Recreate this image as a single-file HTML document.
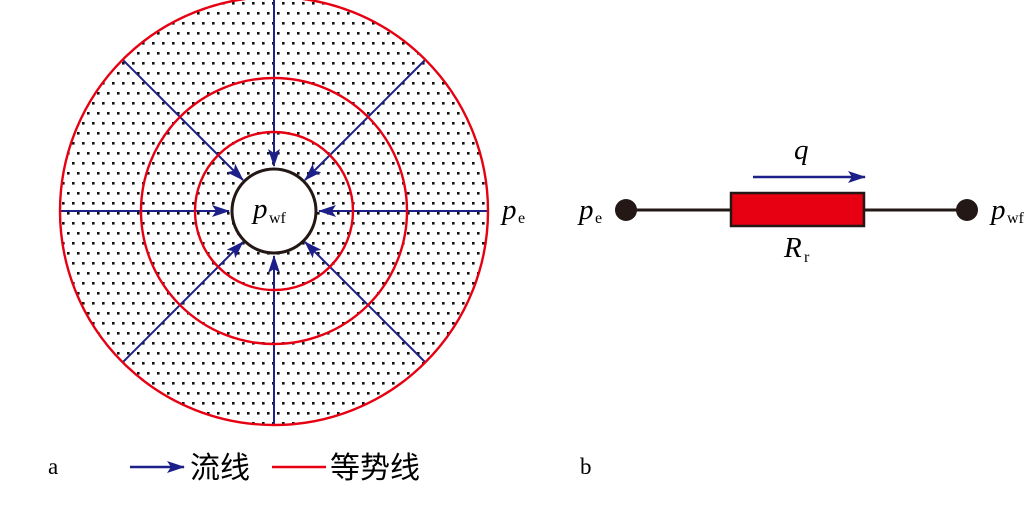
<!DOCTYPE html>
<html><head><meta charset="utf-8"><style>
html,body{margin:0;padding:0;background:#fff;}
svg{display:block;}
</style></head><body>
<svg width="1034" height="520" viewBox="0 0 1034 520" xmlns="http://www.w3.org/2000/svg">
<defs>
<pattern id="dots" width="10" height="20" patternUnits="userSpaceOnUse">
<rect x="2" y="2" width="2.6" height="2.6" fill="#111"/>
<rect x="7" y="12" width="2.6" height="2.6" fill="#111"/>
</pattern>
<marker id="ah2" markerWidth="18" markerHeight="12" refX="17" refY="6" orient="auto" markerUnits="userSpaceOnUse">
<path d="M0,0 L18,6 L0,12 L4,6 Z" fill="#1d2088"/>
</marker>
</defs>
<circle cx="274" cy="211" r="214" fill="url(#dots)"/>
<circle cx="274" cy="211" r="42" fill="#fff"/>
<g stroke="#1d2088" stroke-width="2" marker-end="url(#ah2)">
<line x1="60" y1="211" x2="229" y2="211"/>
<line x1="488" y1="211" x2="319" y2="211"/>
<line x1="274" y1="-3" x2="274" y2="166"/>
<line x1="274" y1="425" x2="274" y2="256"/>
<line x1="123" y1="60" x2="243" y2="180"/>
<line x1="425" y1="60" x2="305" y2="180"/>
<line x1="123" y1="362" x2="243" y2="242"/>
<line x1="425" y1="362" x2="305" y2="242"/>
</g>
<g fill="none" stroke="#e60012" stroke-width="2.4">
<circle cx="274" cy="211" r="214"/>
<circle cx="274" cy="211" r="133"/>
<circle cx="274" cy="211" r="79"/>
</g>
<circle cx="274" cy="211" r="42" fill="none" stroke="#231815" stroke-width="3"/>
<text x="253" y="218" font-family="Liberation Serif,serif" font-style="italic" font-size="29">p</text>
<text x="269" y="223" font-family="Liberation Serif,serif" font-size="16">wf</text>
<text x="502" y="219" font-family="Liberation Serif,serif" font-style="italic" font-size="29">p</text>
<text x="518" y="223" font-family="Liberation Serif,serif" font-size="16">e</text>

<line x1="626" y1="210" x2="967" y2="210" stroke="#231815" stroke-width="3"/>
<circle cx="626" cy="210" r="11" fill="#231815"/>
<circle cx="967" cy="210" r="11" fill="#231815"/>
<rect x="731" y="193" width="133" height="33" fill="#e60012" stroke="#231815" stroke-width="2.5"/>
<line x1="753" y1="177" x2="865" y2="177" stroke="#1d2088" stroke-width="2.5" marker-end="url(#ah2)"/>
<text x="794" y="159" font-family="Liberation Serif,serif" font-style="italic" font-size="29">q</text>
<text x="784" y="257" font-family="Liberation Serif,serif" font-style="italic" font-size="29">R</text>
<text x="804" y="262" font-family="Liberation Serif,serif" font-size="16">r</text>
<text x="579" y="219" font-family="Liberation Serif,serif" font-style="italic" font-size="29">p</text>
<text x="595" y="223" font-family="Liberation Serif,serif" font-size="16">e</text>
<text x="991" y="219" font-family="Liberation Serif,serif" font-style="italic" font-size="29">p</text>
<text x="1007" y="223" font-family="Liberation Serif,serif" font-size="16">wf</text>

<text x="48" y="474" font-family="Liberation Serif,serif" font-size="23">a</text>
<line x1="130" y1="467" x2="184" y2="467" stroke="#1d2088" stroke-width="2.5" marker-end="url(#ah2)"/>
<text x="190" y="478" font-family="Liberation Sans,'Noto Sans CJK SC',sans-serif" font-size="30">流线</text>
<line x1="272" y1="467" x2="326" y2="467" stroke="#e60012" stroke-width="2.5"/>
<text x="330" y="478" font-family="Liberation Sans,'Noto Sans CJK SC',sans-serif" font-size="30">等势线</text>
<text x="580" y="474" font-family="Liberation Serif,serif" font-size="23">b</text>
</svg>
</body></html>
